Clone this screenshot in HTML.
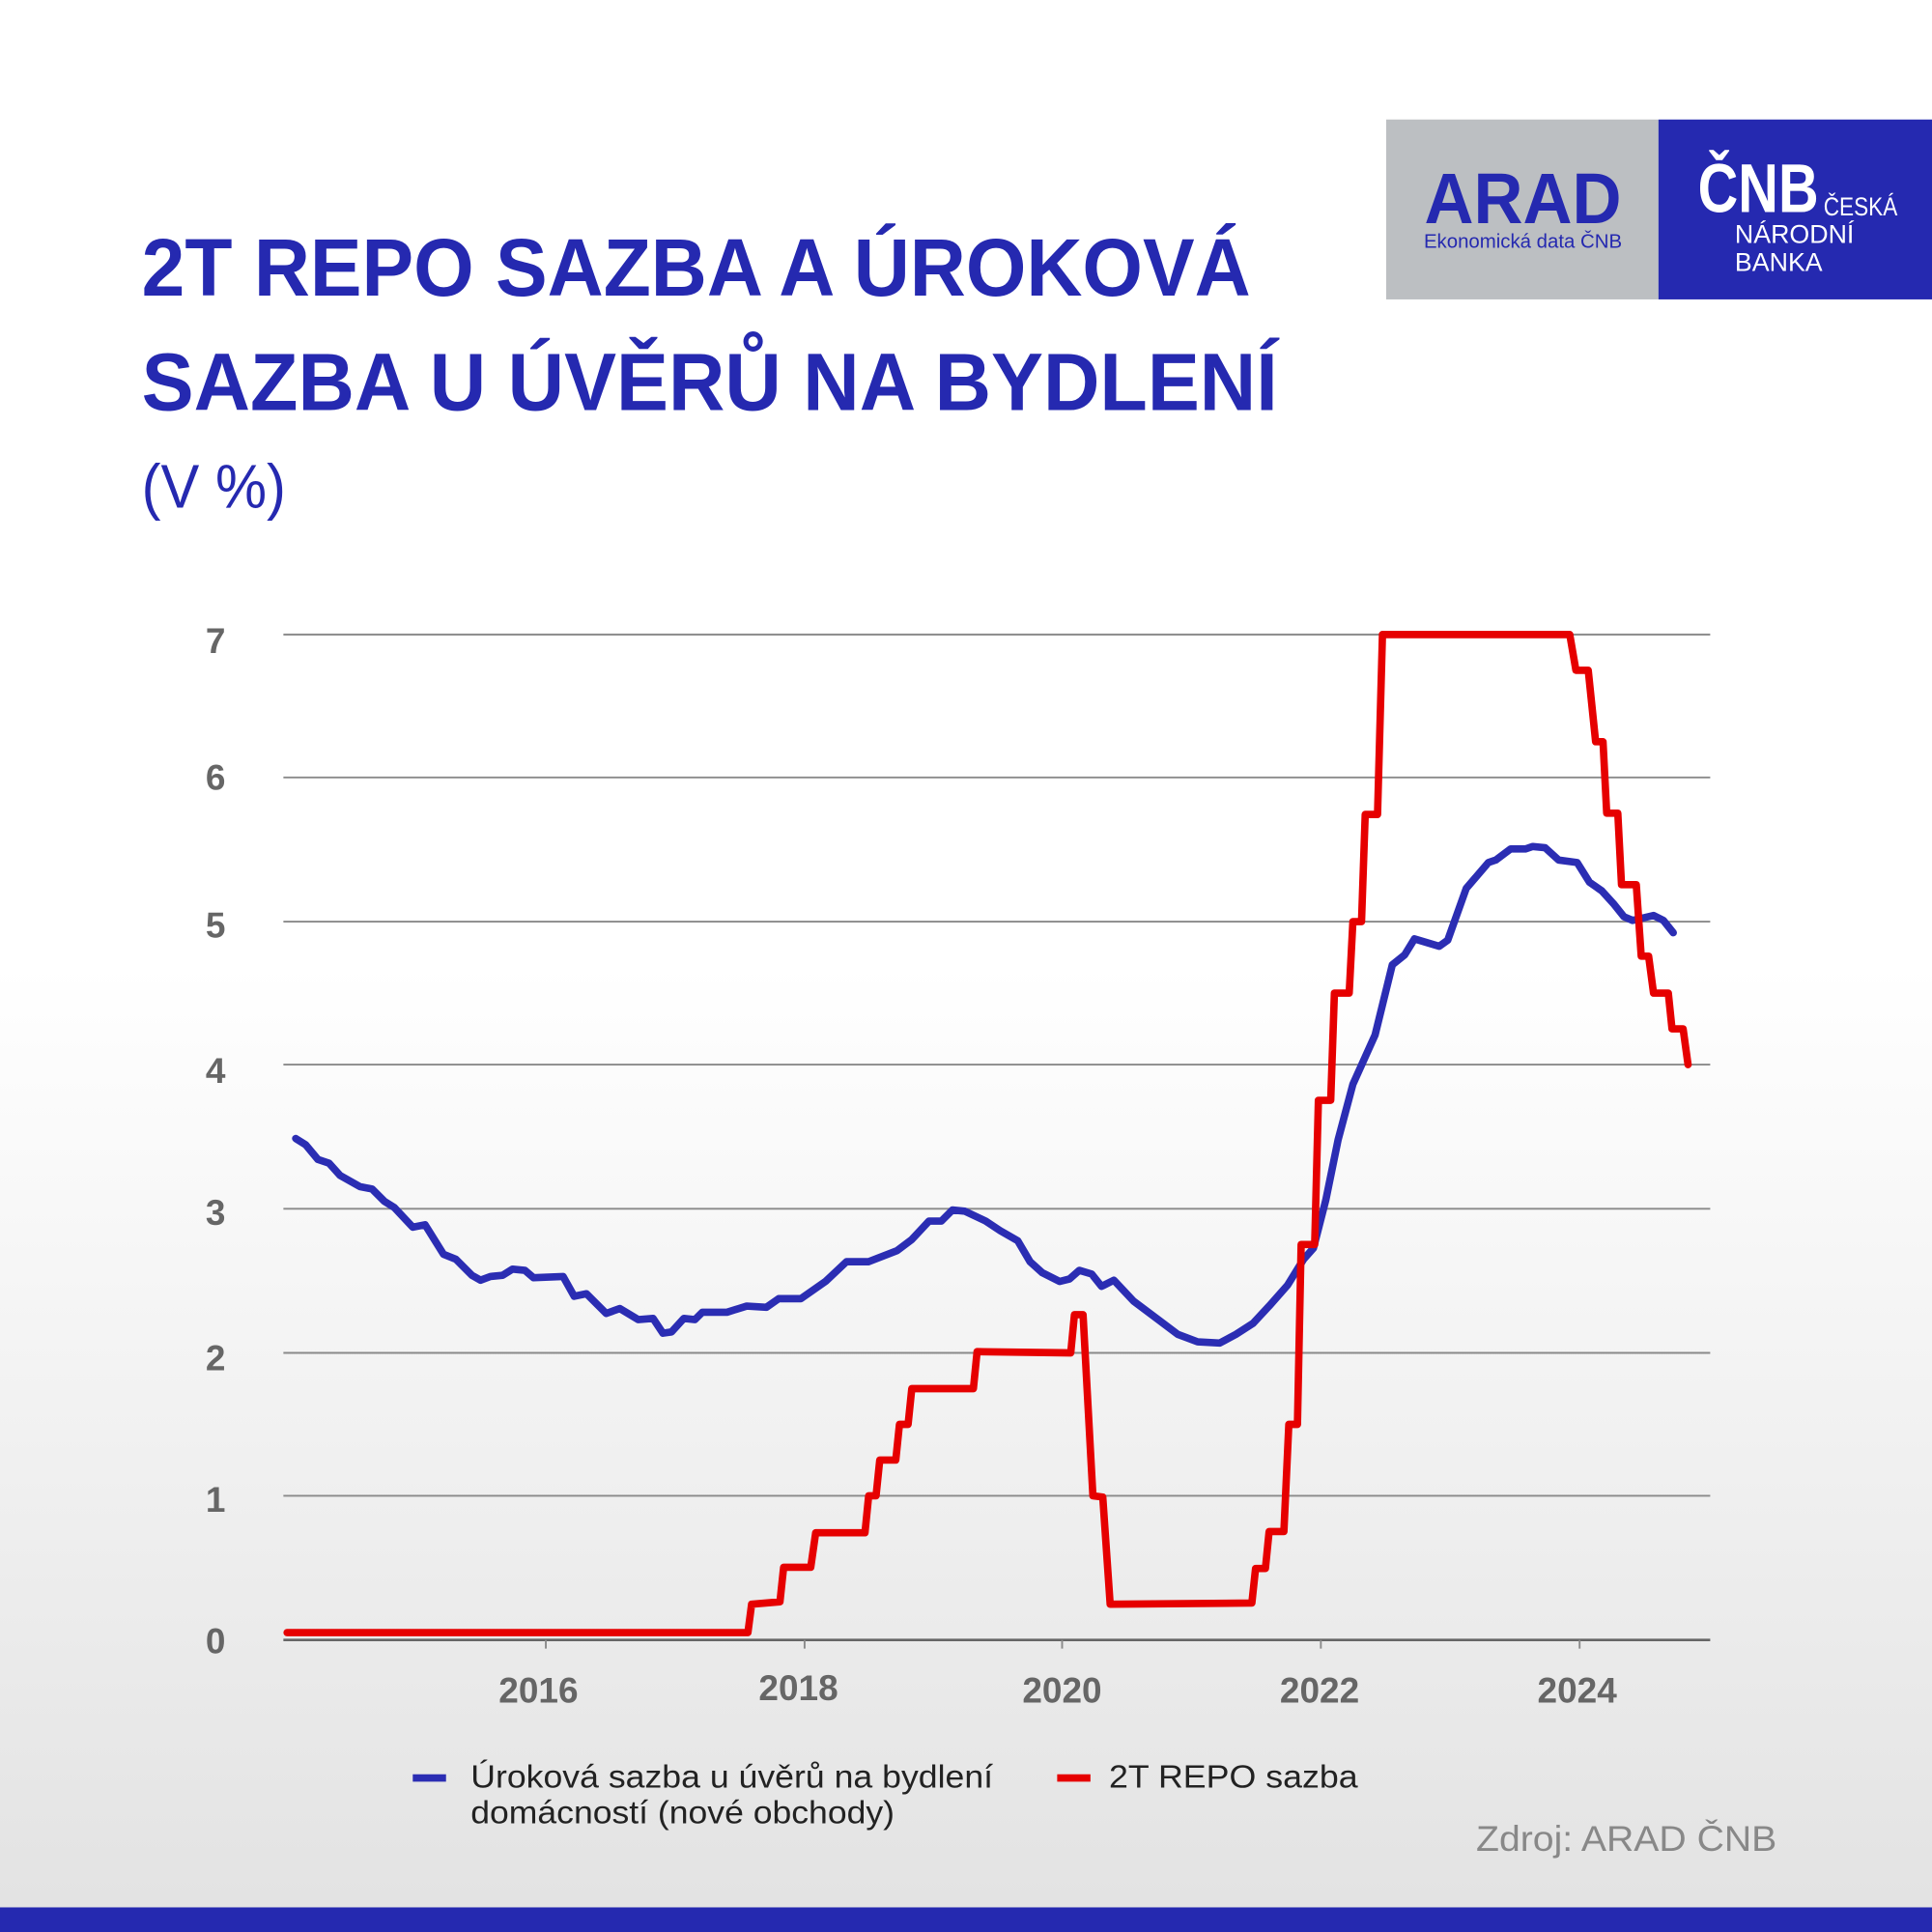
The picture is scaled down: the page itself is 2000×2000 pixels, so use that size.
<!DOCTYPE html>
<html><head><meta charset="utf-8"><style>html,body{margin:0;padding:0;width:2000px;height:2000px;overflow:hidden}svg{display:block}</style></head>
<body>
<svg width="2000" height="2000" viewBox="0 0 1568 1568" xmlns="http://www.w3.org/2000/svg" font-family="'Liberation Sans', sans-serif">
<defs><linearGradient id="bg" x1="0" y1="0" x2="0" y2="1"><stop offset="0" stop-color="#ffffff"/><stop offset="0.5" stop-color="#ffffff"/><stop offset="1" stop-color="#e2e2e2"/></linearGradient></defs>
<rect width="1568" height="1568" fill="url(#bg)"/>
<rect y="1548" width="1568" height="20" fill="#2529b0"/>
<rect x="1125" y="97" width="221" height="146" fill="#bcbfc2"/>
<rect x="1346" y="97" width="222" height="146" fill="#2529b0"/>
<text x="1236" y="181" text-anchor="middle" font-weight="bold" font-size="58" fill="#2529b0" textLength="160" lengthAdjust="spacingAndGlyphs">ARAD</text>
<text x="1236" y="201" text-anchor="middle" font-size="16" fill="#2529b0">Ekonomická data ČNB</text>
<text x="1378" y="172" font-weight="bold" font-size="56" fill="#fff" textLength="98" lengthAdjust="spacingAndGlyphs">ČNB</text>
<text x="1480" y="175" font-size="21" fill="#fff" textLength="60" lengthAdjust="spacingAndGlyphs">ČESKÁ</text>
<text x="1408" y="197" font-size="21" fill="#fff">NÁRODNÍ</text>
<text x="1408" y="220" font-size="21" fill="#fff">BANKA</text>
<g fill="#2529b0" font-weight="bold" font-size="66">
<text x="115" y="240" textLength="900" lengthAdjust="spacingAndGlyphs">2T REPO SAZBA A ÚROKOVÁ</text>
<text x="115" y="333" textLength="922" lengthAdjust="spacingAndGlyphs">SAZBA U ÚVĚRŮ NA BYDLENÍ</text>
</g>
<text x="115" y="412" font-size="50" fill="#2529b0" textLength="117" lengthAdjust="spacingAndGlyphs">(V %)</text>
<g stroke="#8a8a8a" stroke-width="1.5">
<line x1="230" y1="515" x2="1388" y2="515"/><line x1="230" y1="631" x2="1388" y2="631"/>
<line x1="230" y1="748" x2="1388" y2="748"/><line x1="230" y1="864" x2="1388" y2="864"/>
<line x1="230" y1="981" x2="1388" y2="981"/><line x1="230" y1="1098" x2="1388" y2="1098"/>
<line x1="230" y1="1214" x2="1388" y2="1214"/><line x1="230" y1="1331" x2="1388" y2="1331" stroke="#666" stroke-width="2"/>
<line x1="443" y1="1331" x2="443" y2="1338"/><line x1="653" y1="1331" x2="653" y2="1338"/><line x1="862" y1="1331" x2="862" y2="1338"/><line x1="1072" y1="1331" x2="1072" y2="1338"/><line x1="1282" y1="1331" x2="1282" y2="1338"/>
</g>
<g fill="#666" font-weight="bold" font-size="29" text-anchor="middle">
<text x="175" y="530">7</text><text x="175" y="641">6</text><text x="175" y="761">5</text><text x="175" y="879">4</text><text x="175" y="994">3</text><text x="175" y="1112">2</text><text x="175" y="1227">1</text><text x="175" y="1342">0</text>
<text x="437" y="1382">2016</text><text x="648" y="1380">2018</text><text x="862" y="1382">2020</text><text x="1071" y="1382">2022</text><text x="1280" y="1382">2024</text>
</g>
<polyline fill="none" stroke="#2b2db3" stroke-width="6" stroke-linejoin="round" stroke-linecap="round" points="240,924 248,929 258,941 267,944 276,954 292,963 302,965 312,975 320,980 335,996 345,994 360,1018 370,1022 383,1035 390,1039 398,1036 408,1035 416,1030 426,1031 433,1037 457,1036 466,1052 476,1050 492,1066 503,1062 518,1071 530,1070 538,1082 545,1081 555,1070 564,1071 570,1065 590,1065 606,1060 622,1061 632,1054 650,1054 670,1040 687,1024 705,1024 728,1015 740,1006 754,991 764,991 773,982 783,983 800,991 812,999 826,1007 836,1024 846,1033 860,1040 868,1038 876,1031 886,1034 894,1044 904,1039 920,1056 940,1071 956,1083 972,1089 990,1090 1003,1083 1017,1074 1030,1060 1045,1043 1058,1022 1066,1013 1076,974 1086,925 1098,880 1116,840 1130,783 1140,775 1148,762 1168,768 1175,763 1190,721 1208,700 1214,698 1226,689 1238,689 1244,687 1254,688 1265,698 1280,700 1290,716 1300,723 1310,734 1318,744 1325,747 1342,743 1350,747 1358,757"/>
<polyline fill="none" stroke="#e60000" stroke-width="6" stroke-linejoin="round" stroke-linecap="round" points="233,1325 607,1325 610,1302 633,1300 636,1272 658,1272 662,1244 702,1244 705,1214 711,1214 714,1185 727,1185 730,1156 737,1156 740,1127 790,1127 793,1097 869,1098 872,1067 879,1067 887,1214 895,1215 901,1302 1016,1301 1019,1273 1027,1273 1030,1243 1042,1243 1046,1156 1053,1156 1056,1010 1067,1010 1070,893 1080,893 1083,806 1095,806 1098,748 1105,748 1108,661 1118,661 1122,515 1274,515 1279,544 1289,544 1295,602 1301,602 1304,660 1313,660 1316,718 1328,718 1332,776 1338,776 1342,806 1354,806 1357,835 1366,835 1370,864"/>
<rect x="335" y="1440" width="27" height="6" fill="#2b2db3"/>
<rect x="858" y="1440" width="27" height="6" fill="#e60000"/>
<g font-size="26" fill="#222">
<text x="382" y="1451" textLength="424" lengthAdjust="spacingAndGlyphs">Úroková sazba u úvěrů na bydlení</text>
<text x="382" y="1480" textLength="344" lengthAdjust="spacingAndGlyphs">domácností (nové obchody)</text>
<text x="900" y="1451" textLength="202" lengthAdjust="spacingAndGlyphs">2T REPO sazba</text>
</g>
<text x="1442" y="1502" text-anchor="end" font-size="29" fill="#888" textLength="244" lengthAdjust="spacingAndGlyphs">Zdroj: ARAD ČNB</text>
</svg>
</body></html>
